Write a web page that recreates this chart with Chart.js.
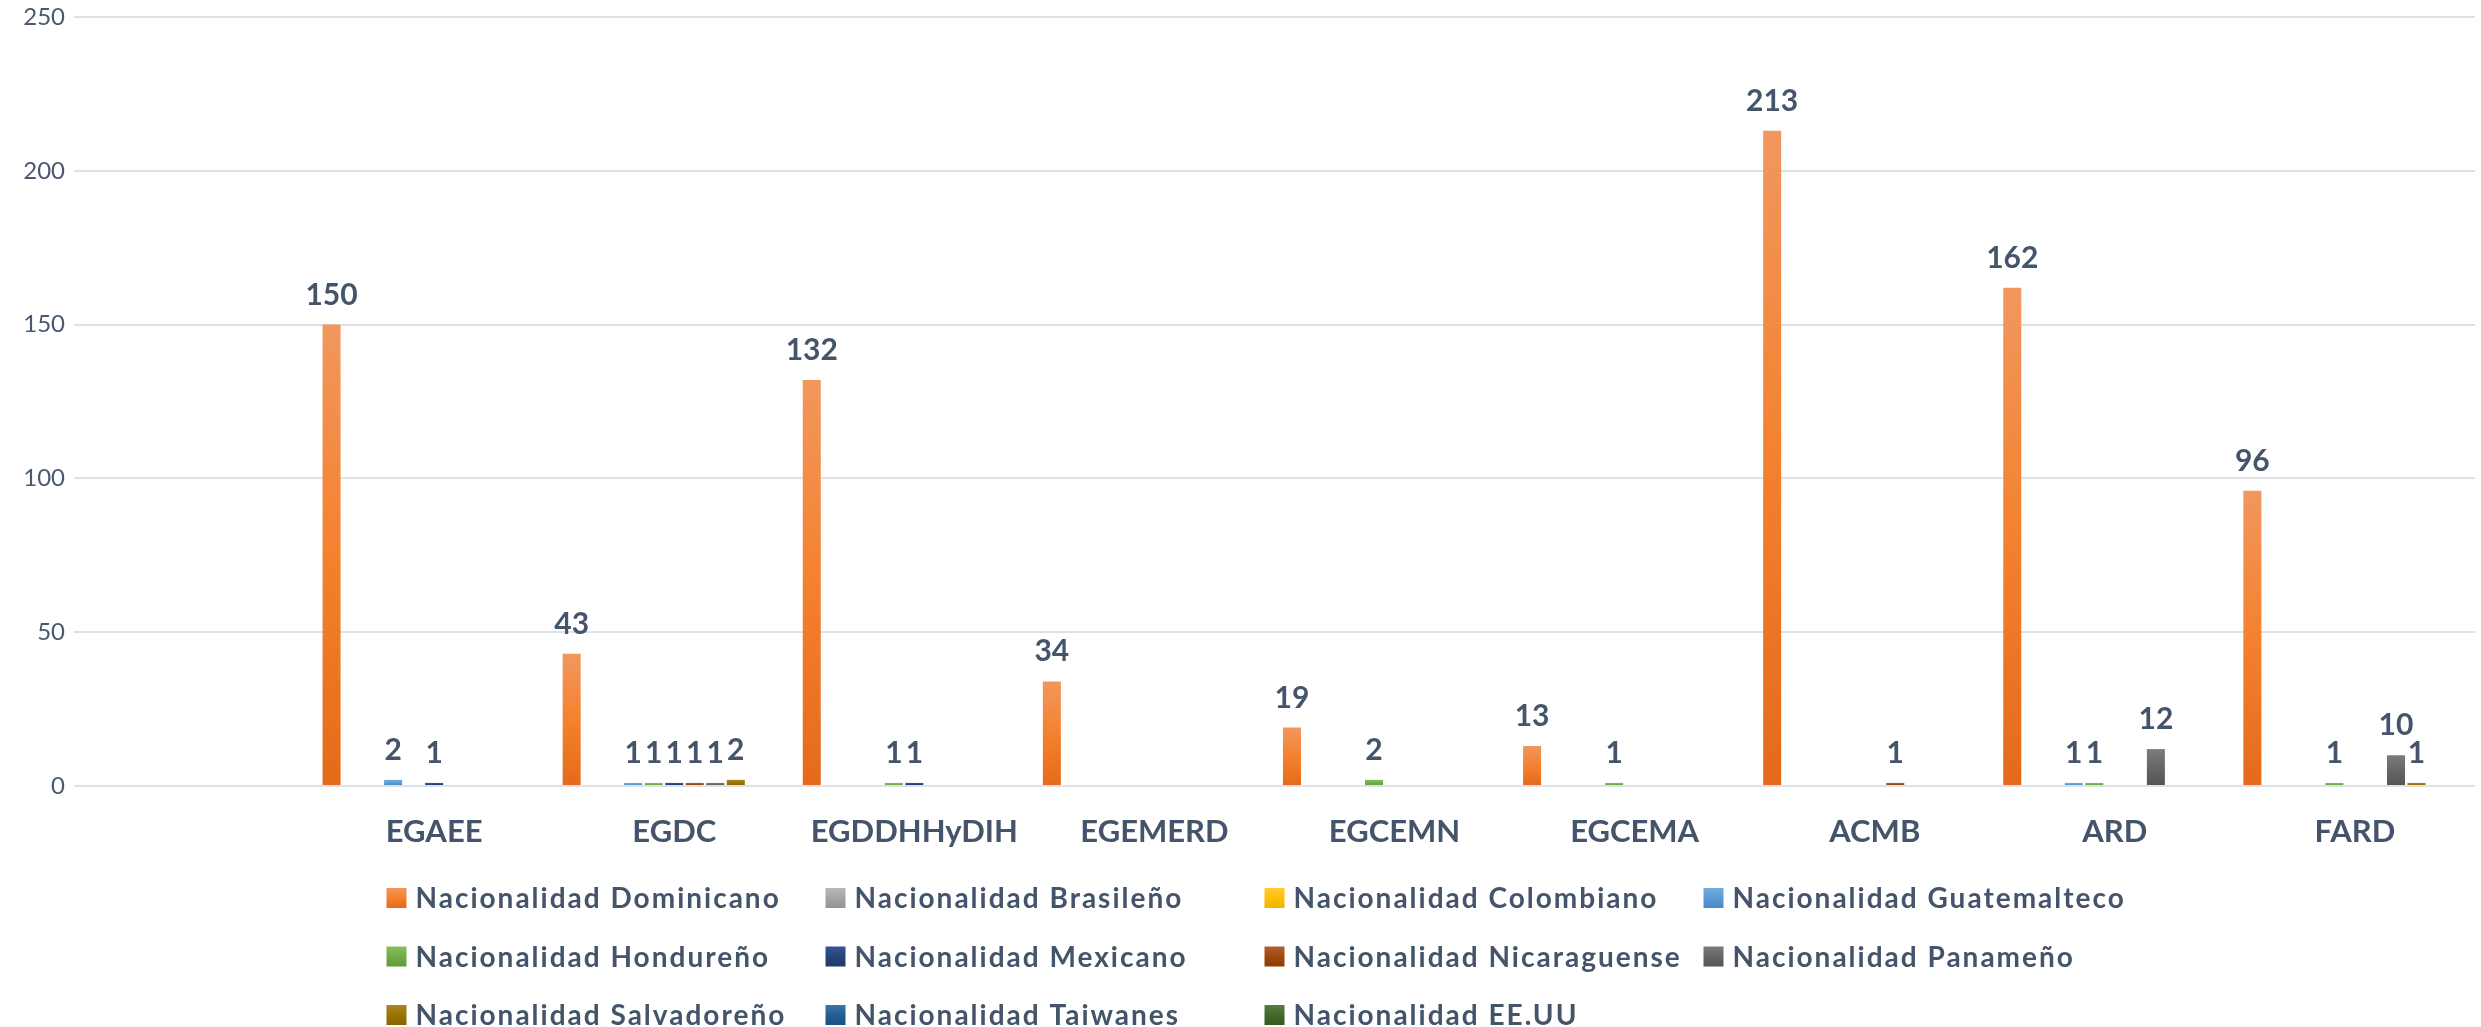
<!DOCTYPE html>
<html>
<head>
<meta charset="utf-8">
<title>Nacionalidad por programa</title>
<script src="https://cdn.jsdelivr.net/npm/chart.js@4.4.1/dist/chart.umd.min.js"></script>
<style>
  html, body { margin: 0; padding: 0; background: #ffffff; }
  #wrap { width: 2481px; height: 1027px; }
</style>
</head>
<body>
<div id="wrap"><canvas id="myChart" width="2481" height="1027"></canvas></div>
<script>
// categorias (la primera esta vacia en el original)
const labels = ["", "EGAEE", "EGDC", "EGDDHHyDIH", "EGEMERD", "EGCEMN", "EGCEMA", "ACMB", "ARD", "FARD"];

const dominicano   = [null, 150, 43, 132, 34, 19, 13, 213, 162, 96];
const brasileno    = [null, null, null, null, null, null, null, null, null, null];
const colombiano   = [null, null, null, null, null, null, null, null, null, null];
const guatemalteco = [null, 2, 1, null, null, null, null, null, 1, null];
const hondureno    = [null, null, 1, 1, null, 2, 1, null, 1, 1];
const mexicano     = [null, 1, 1, 1, null, null, null, null, null, null];
const nicaraguense = [null, null, 1, null, null, null, null, 1, null, null];
const panameno     = [null, null, 1, null, null, null, null, null, 12, 10];
const salvadoreno  = [null, null, 2, null, null, null, null, null, null, 1];
const taiwanes     = [null, null, null, null, null, null, null, null, null, null];
const eeuu         = [null, null, null, null, null, null, null, null, null, null];

const seriesNames = [
  "Nacionalidad Dominicano", "Nacionalidad Brasileño", "Nacionalidad Colombiano", "Nacionalidad Guatemalteco",
  "Nacionalidad Hondureño", "Nacionalidad Mexicano", "Nacionalidad Nicaraguense", "Nacionalidad Panameño",
  "Nacionalidad Salvadoreño", "Nacionalidad Taiwanes", "Nacionalidad EE.UU"
];
const seriesData = [dominicano, brasileno, colombiano, guatemalteco, hondureno, mexicano,
  nicaraguense, panameno, salvadoreno, taiwanes, eeuu];

const yTicks = [0, 50, 100, 150, 200, 250];

// colores tipo degradado de Excel: [arriba, medio, abajo]
const palette = [
  ["#F1975E", "#F4812E", "#E46A1A"],
  ["#B8B8B8", "#A5A5A5", "#939393"],
  ["#FFCC3D", "#FFC000", "#EDB300"],
  ["#74AEE0", "#5B9BD5", "#4688C6"],
  ["#84C25C", "#70AD47", "#5F9C38"],
  ["#34559A", "#264478", "#1E3A6A"],
  ["#B65F30", "#9E480E", "#8C3C06"],
  ["#7C7C7C", "#666666", "#545454"],
  ["#AD8322", "#997300", "#876500"],
  ["#3A76AE", "#255E91", "#1D5080"],
  ["#587E3E", "#43682B", "#375A22"]
];

const textColor = "#44546A";

function barGradient(ctx, top, bottom, cols) {
  if (!isFinite(top) || !isFinite(bottom) || bottom - top < 1) return cols[1];
  const g = ctx.createLinearGradient(0, top, 0, bottom);
  g.addColorStop(0, cols[0]);
  g.addColorStop(0.5, cols[1]);
  g.addColorStop(1, cols[2]);
  return g;
}

const datasets = seriesData.map((arr, i) => ({
  label: seriesNames[i],
  data: arr,
  backgroundColor: (c) => {
    const chart = c.chart;
    if (!chart.chartArea || c.type !== "data" || c.raw == null) return palette[i][1];
    const y = chart.scales.y;
    return barGradient(chart.ctx, y.getPixelForValue(c.raw), y.getPixelForValue(0), palette[i]);
  },
  borderWidth: 0,
  categoryPercentage: 0.94,
  barPercentage: 0.878
}));

// etiquetas de valor encima de cada barra
const valueLabels = {
  id: "valueLabels",
  afterDatasetsDraw(chart) {
    const ctx = chart.ctx;
    ctx.save();
    ctx.font = "bold 30px Lato";
    ctx.fillStyle = textColor;
    ctx.textAlign = "center";
    ctx.textBaseline = "alphabetic";
    chart.data.datasets.forEach((ds, i) => {
      const meta = chart.getDatasetMeta(i);
      meta.data.forEach((bar, j) => {
        const v = ds.data[j];
        if (v == null) return;
        ctx.fillText(String(v), bar.x, bar.y - 20);
      });
    });
    ctx.restore();
  }
};

// leyenda en columnas fijas, como en Excel
const gridLegend = {
  id: "gridLegend",
  afterDraw(chart) {
    const ctx = chart.ctx;
    const colW = 439;
    const rowH = 58.5;
    const x0 = (chart.width - 4 * colW) / 2 + 24;
    const y0 = 898;
    ctx.save();
    ctx.font = "bold 28px Lato";
    try { ctx.letterSpacing = "2px"; } catch (e) {}
    ctx.textBaseline = "middle";
    ctx.textAlign = "left";
    chart.data.datasets.forEach((ds, i) => {
      const x = x0 + (i % 4) * colW;
      const y = y0 + Math.floor(i / 4) * rowH;
      ctx.fillStyle = barGradient(ctx, y - 10, y + 10, palette[i]);
      ctx.fillRect(x, y - 10, 20, 20);
      ctx.fillStyle = textColor;
      ctx.fillText(ds.label, x + 29, y + 1);
    });
    ctx.restore();
  }
};

new Chart(document.getElementById("myChart"), {
  type: "bar",
  data: {
    labels: labels,
    datasets: datasets
  },
  options: {
    responsive: false,
    animation: false,
    layout: {
      padding: { top: 17, right: 6, bottom: 166, left: 0 }
    },
    plugins: {
      legend: { display: false },
      tooltip: { enabled: false },
      title: { display: false }
    },
    scales: {
      x: {
        grid: { display: false, drawTicks: false },
        border: { display: false },
        ticks: {
          color: textColor,
          font: { family: "Lato", size: 31, weight: "bold" },
          padding: 27,
          maxRotation: 0,
          autoSkip: false
        },
        afterFit: (s) => { s.height = 75; }
      },
      y: {
        min: yTicks[0],
        max: yTicks[yTicks.length - 1],
        afterBuildTicks: (s) => { s.ticks = yTicks.map(v => ({ value: v })); },
        grid: { color: "#DEE2E8", lineWidth: 2, drawTicks: false },
        border: { display: false },
        ticks: {
          color: "#4A5870",
          font: { family: "Lato", size: 24 },
          padding: 9
        },
        afterFit: (s) => {
          s.width = 74;
          s.paddingTop = 0;
          s.paddingBottom = 0;
        }
      }
    }
  },
  plugins: [valueLabels, gridLegend]
});
</script>
</body>
</html>
